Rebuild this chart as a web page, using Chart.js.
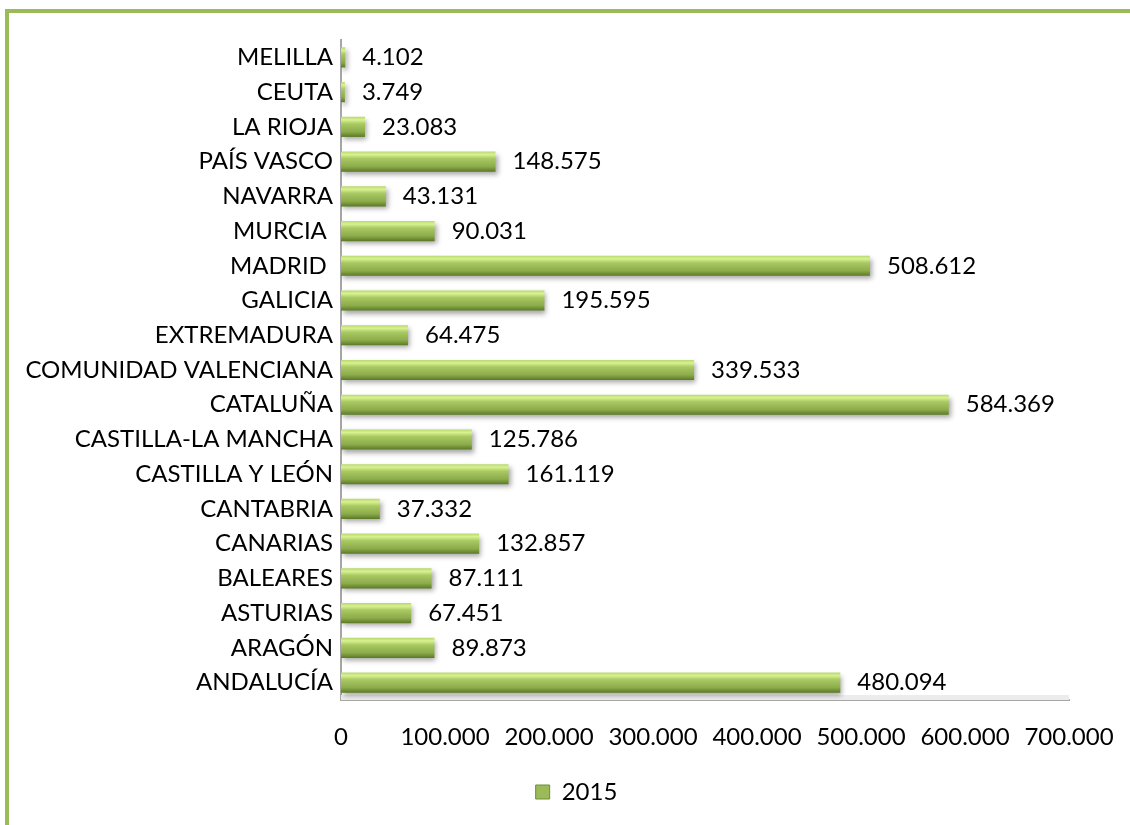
<!DOCTYPE html>
<html>
<head>
<meta charset="utf-8">
<script src="https://cdn.jsdelivr.net/npm/chart.js@4.4.0/dist/chart.umd.min.js"></script>
<style>
  html, body { margin: 0; padding: 0; background: #fff; }
  #marco {
    position: absolute; left: 5px; top: 9px; width: 1200px; height: 900px;
    border-left: 4px solid #9bbb59; border-top: 4px solid #9bbb59;
  }
  #wrap { position: absolute; left: 0; top: 0; width: 1130px; height: 825px; }
</style>
</head>
<body>
<div id="marco"></div>
<div id="wrap"><canvas id="graficoComunidades"></canvas></div>
<script>
// Comunidades autónomas (de abajo a arriba en el gráfico)
const comunidades = [
    'ANDALUCÍA', 'ARAGÓN', 'ASTURIAS', 'BALEARES', 'CANARIAS', 'CANTABRIA',
    'CASTILLA Y LEÓN', 'CASTILLA-LA MANCHA', 'CATALUÑA', 'COMUNIDAD VALENCIANA',
    'EXTREMADURA', 'GALICIA', 'MADRID ', 'MURCIA ', 'NAVARRA', 'PAÍS VASCO',
    'LA RIOJA', 'CEUTA', 'MELILLA'
];
const valores2015 = [
    480094, 89873, 67451, 87111, 132857, 37332,
    161119, 125786, 584369, 339533,
    64475, 195595, 508612, 90031, 43131, 148575,
    23083, 3749, 4102
];
const ticksEjeX = [0, 100000, 200000, 300000, 400000, 500000, 600000, 700000];

const fuente = 'Lato, "Open Sans", sans-serif';
const tamFuente = 24;

// Formato con punto de millares
function formatoMiles(v) {
    return String(Math.round(v)).replace(/\B(?=(\d{3})+(?!\d))/g, '.');
}

// Degradado vertical para cada barra (efecto biselado)
function colorBarra(context) {
    const chart = context.chart;
    if (!chart.chartArea || context.dataIndex === undefined) return '#9bbb59';
    const y = chart.scales.y.getPixelForValue(context.dataIndex);
    const h = 10;
    const g = chart.ctx.createLinearGradient(0, y - h, 0, y + h);
    g.addColorStop(0, '#b9d870');
    g.addColorStop(0.15, '#d8f28f');
    g.addColorStop(0.35, '#a9c963');
    g.addColorStop(0.75, '#8cab4a');
    g.addColorStop(0.9, '#6f8d34');
    g.addColorStop(1, '#5c7828');
    return g;
}

// Sombra de las barras
const sombraBarras = {
    id: 'sombraBarras',
    beforeDatasetsDraw(chart) {
        const ctx = chart.ctx;
        ctx.save();
        ctx.shadowColor = 'rgba(0,0,0,0.35)';
        ctx.shadowBlur = 5;
        ctx.shadowOffsetX = 2;
        ctx.shadowOffsetY = 3;
    },
    afterDatasetsDraw(chart) {
        chart.ctx.restore();
    }
};

// Etiquetas de valor a la derecha de cada barra
const etiquetasValor = {
    id: 'etiquetasValor',
    afterDatasetsDraw(chart) {
        const ctx = chart.ctx;
        const meta = chart.getDatasetMeta(0);
        ctx.save();
        ctx.font = tamFuente + 'px ' + fuente;
        ctx.fillStyle = '#000';
        ctx.textAlign = 'left';
        ctx.textBaseline = 'middle';
        meta.data.forEach((barra, i) => {
            ctx.fillText(formatoMiles(valores2015[i]), barra.x + 17, barra.y);
        });
        ctx.restore();
    }
};

// Suelo gris claro bajo las barras
const suelo = {
    id: 'suelo',
    beforeDatasetsDraw(chart) {
        const a = chart.chartArea;
        const ctx = chart.ctx;
        ctx.save();
        ctx.fillStyle = '#ececec';
        ctx.fillRect(a.left, a.bottom - 5, a.right - a.left, 5);
        ctx.restore();
    }
};

// Desplaza la leyenda un poco a la derecha, como en el original
const moverLeyenda = {
    id: 'moverLeyenda',
    afterLayout(chart) {
        if (chart.legend) {
            chart.legend.left += 42;
            chart.legend.right += 42;
        }
    }
};

function crearGrafico() {
    const ctx = document.getElementById('graficoComunidades').getContext('2d');
    new Chart(ctx, {
        type: 'bar',
        data: {
            labels: comunidades,
            datasets: [{
                label: '2015',
                data: valores2015,
                backgroundColor: colorBarra,
                borderWidth: 0,
                categoryPercentage: 1,
                barPercentage: 0.58
            }]
        },
        options: {
            indexAxis: 'y',
            responsive: false,
            animation: false,
            layout: { padding: { top: 40, right: 61, left: 0, bottom: 11 } },
            plugins: {
                legend: {
                    display: true,
                    position: 'bottom',
                    labels: {
                        font: { family: fuente, size: tamFuente },
                        color: '#000',
                        boxWidth: 14,
                        boxHeight: 14,
                        padding: 10,
                        generateLabels: () => [{
                            text: '2015',
                            fillStyle: '#9bbb59',
                            strokeStyle: '#6f8d34',
                            lineWidth: 1,
                            datasetIndex: 0
                        }]
                    }
                },
                tooltip: { enabled: false }
            },
            scales: {
                x: {
                    min: 0,
                    max: 700000,
                    afterBuildTicks: (eje) => { eje.ticks = ticksEjeX.map(v => ({ value: v })); },
                    afterFit: (eje) => {
                        eje.height = 70;
                        eje.paddingLeft = 0;
                        eje.paddingRight = 0;
                    },
                    ticks: {
                        font: { family: fuente, size: tamFuente },
                        color: '#000',
                        padding: 23,
                        maxRotation: 0,
                        callback: (v) => formatoMiles(v)
                    },
                    grid: { display: false, drawTicks: false },
                    border: { display: true, color: '#a6a6a6', width: 2 }
                },
                y: {
                    reverse: true,
                    afterFit: (eje) => { eje.width = 341; },
                    ticks: {
                        font: { family: fuente, size: tamFuente },
                        color: '#000',
                        padding: 8,
                        autoSkip: false
                    },
                    grid: { display: false, drawTicks: false },
                    border: { display: true, color: '#a6a6a6', width: 2 }
                }
            }
        },
        plugins: [suelo, sombraBarras, etiquetasValor, moverLeyenda]
    });
}

const lienzo = document.getElementById('graficoComunidades');
lienzo.width = 1130;
lienzo.height = 825;
crearGrafico();
</script>
</body>
</html>
